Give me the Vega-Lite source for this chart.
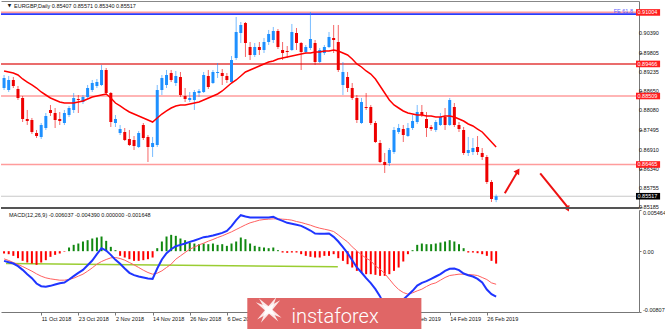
{
"$schema":"https://vega.github.io/schema/vega-lite/v6.json",
"padding":{"left":0,"top":1,"right":0,"bottom":0},
"autosize":{"type":"pad"},
"bounds":"flush",
"spacing":2,
"background":"white",
"config":{"view":{"stroke":null},"font":"Liberation Sans","axis":{"labelFont":"Liberation Sans","labelFontSize":5.5,"labelColor":"#111","grid":false,"title":null,"labelOverlap":false}},
"datasets":{
"bars":[
{"i":0,"o":0.88748,"h":0.89136,"l":0.88688,"c":0.89047,"ma":0.89256,"m":-0.001283,"s":-0.001017,"hg":-0.000310},
{"i":1,"o":0.88688,"h":0.89106,"l":0.88629,"c":0.88987,"ma":0.89226,"m":-0.001460,"s":-0.001238,"hg":-0.000398},
{"i":2,"o":0.88987,"h":0.89077,"l":0.88748,"c":0.88808,"ma":0.89196,"m":-0.001637,"s":-0.001504,"hg":-0.000619},
{"i":3,"o":0.88718,"h":0.88808,"l":0.88390,"c":0.88450,"ma":0.89136,"m":-0.001990,"s":-0.001769,"hg":-0.000929},
{"i":4,"o":0.88450,"h":0.88509,"l":0.87733,"c":0.87823,"ma":0.89017,"m":-0.002477,"s":-0.002035,"hg":-0.001283},
{"i":5,"o":0.87823,"h":0.88092,"l":0.87644,"c":0.87763,"ma":0.88927,"m":-0.003052,"s":-0.002344,"hg":-0.001504},
{"i":6,"o":0.87793,"h":0.87853,"l":0.87375,"c":0.87435,"ma":0.88838,"m":-0.003583,"s":-0.002654,"hg":-0.001637},
{"i":7,"o":0.87405,"h":0.87495,"l":0.87256,"c":0.87315,"ma":0.88748,"m":-0.004290,"s":-0.003008,"hg":-0.001813},
{"i":8,"o":0.87286,"h":0.87703,"l":0.87226,"c":0.87644,"ma":0.88629,"m":-0.004644,"s":-0.003317,"hg":-0.001504},
{"i":9,"o":0.87554,"h":0.88002,"l":0.87495,"c":0.87912,"ma":0.88539,"m":-0.004733,"s":-0.003538,"hg":-0.001194},
{"i":10,"o":0.88092,"h":0.88241,"l":0.87912,"c":0.88002,"ma":0.88450,"m":-0.004600,"s":-0.003671,"hg":-0.000752},
{"i":11,"o":0.88002,"h":0.88151,"l":0.87554,"c":0.87793,"ma":0.88390,"m":-0.004423,"s":-0.003760,"hg":-0.000487},
{"i":12,"o":0.87823,"h":0.88032,"l":0.87644,"c":0.87763,"ma":0.88330,"m":-0.004246,"s":-0.003848,"hg":-0.000310},
{"i":13,"o":0.87703,"h":0.88092,"l":0.87644,"c":0.88002,"ma":0.88300,"m":-0.004158,"s":-0.003848,"hg":-0.000088},
{"i":14,"o":0.87942,"h":0.88211,"l":0.87883,"c":0.88151,"ma":0.88300,"m":-0.003760,"s":-0.003760,"hg":0.000487},
{"i":15,"o":0.88092,"h":0.88599,"l":0.88002,"c":0.88450,"ma":0.88300,"m":-0.003317,"s":-0.003583,"hg":0.000840},
{"i":16,"o":0.88420,"h":0.88539,"l":0.88002,"c":0.88390,"ma":0.88330,"m":-0.002875,"s":-0.003317,"hg":0.001017},
{"i":17,"o":0.88330,"h":0.88539,"l":0.88271,"c":0.88480,"ma":0.88360,"m":-0.002477,"s":-0.003052,"hg":0.001283},
{"i":18,"o":0.88480,"h":0.88838,"l":0.88450,"c":0.88748,"ma":0.88420,"m":-0.001858,"s":-0.002654,"hg":0.001460},
{"i":19,"o":0.88688,"h":0.88987,"l":0.88629,"c":0.88897,"ma":0.88480,"m":-0.001238,"s":-0.002212,"hg":0.001681},
{"i":20,"o":0.88808,"h":0.89017,"l":0.88748,"c":0.88927,"ma":0.88509,"m":-0.000398,"s":-0.001725,"hg":0.001813},
{"i":21,"o":0.88838,"h":0.89435,"l":0.88808,"c":0.89286,"ma":0.88539,"m":0.000398,"s":-0.001371,"hg":0.001946},
{"i":22,"o":0.89286,"h":0.89345,"l":0.88539,"c":0.88599,"ma":0.88569,"m":0.000088,"s":-0.001106,"hg":0.001371},
{"i":23,"o":0.88599,"h":0.88629,"l":0.87584,"c":0.87733,"ma":0.88450,"m":-0.000487,"s":-0.000885,"hg":0.000575},
{"i":24,"o":0.87703,"h":0.87942,"l":0.87584,"c":0.87823,"ma":0.88300,"m":-0.001150,"s":-0.000840,"hg":0.000133},
{"i":25,"o":0.87405,"h":0.87644,"l":0.87345,"c":0.87524,"ma":0.88211,"m":-0.001681,"s":-0.000973,"hg":-0.000619},
{"i":26,"o":0.87435,"h":0.87554,"l":0.87166,"c":0.87196,"ma":0.88121,"m":-0.002300,"s":-0.001194,"hg":-0.000840},
{"i":27,"o":0.87226,"h":0.87495,"l":0.87017,"c":0.87047,"ma":0.88032,"m":-0.002875,"s":-0.001504,"hg":-0.001062},
{"i":28,"o":0.87196,"h":0.87315,"l":0.86898,"c":0.87017,"ma":0.87972,"m":-0.003185,"s":-0.001813,"hg":-0.001283},
{"i":29,"o":0.86987,"h":0.87465,"l":0.86957,"c":0.87405,"ma":0.87912,"m":-0.003361,"s":-0.002167,"hg":-0.001283},
{"i":30,"o":0.87644,"h":0.87703,"l":0.87196,"c":0.87256,"ma":0.87853,"m":-0.003494,"s":-0.002521,"hg":-0.001194},
{"i":31,"o":0.87286,"h":0.87345,"l":0.86539,"c":0.86987,"ma":0.87793,"m":-0.003627,"s":-0.002831,"hg":-0.001062},
{"i":32,"o":0.86987,"h":0.87286,"l":0.86689,"c":0.87106,"ma":0.87733,"m":-0.003671,"s":-0.003052,"hg":-0.000840},
{"i":33,"o":0.87047,"h":0.88838,"l":0.86987,"c":0.88688,"ma":0.87853,"m":-0.002300,"s":-0.002919,"hg":0.000398},
{"i":34,"o":0.88688,"h":0.89136,"l":0.88539,"c":0.89047,"ma":0.87972,"m":-0.001106,"s":-0.002610,"hg":0.001283},
{"i":35,"o":0.88838,"h":0.89286,"l":0.88748,"c":0.89136,"ma":0.88062,"m":-0.000265,"s":-0.002167,"hg":0.001946},
{"i":36,"o":0.89196,"h":0.89286,"l":0.88927,"c":0.88987,"ma":0.88151,"m":0.000265,"s":-0.001725,"hg":0.002167},
{"i":37,"o":0.88897,"h":0.89256,"l":0.88808,"c":0.89106,"ma":0.88211,"m":0.000663,"s":-0.001062,"hg":0.002035},
{"i":38,"o":0.89077,"h":0.89226,"l":0.88480,"c":0.88539,"ma":0.88241,"m":0.000840,"s":-0.000619,"hg":0.001681},
{"i":39,"o":0.88509,"h":0.88748,"l":0.88330,"c":0.88420,"ma":0.88241,"m":0.001017,"s":-0.000177,"hg":0.001460},
{"i":40,"o":0.88390,"h":0.88629,"l":0.88330,"c":0.88450,"ma":0.88271,"m":0.001238,"s":0.000265,"hg":0.001150},
{"i":41,"o":0.88390,"h":0.88688,"l":0.88092,"c":0.88629,"ma":0.88300,"m":0.001415,"s":0.000531,"hg":0.001017},
{"i":42,"o":0.88599,"h":0.88718,"l":0.88480,"c":0.88659,"ma":0.88330,"m":0.001637,"s":0.000840,"hg":0.000929},
{"i":43,"o":0.88629,"h":0.89226,"l":0.88599,"c":0.89136,"ma":0.88390,"m":0.001858,"s":0.001062,"hg":0.001017},
{"i":44,"o":0.89106,"h":0.89286,"l":0.88718,"c":0.88778,"ma":0.88450,"m":0.001946,"s":0.001327,"hg":0.000929},
{"i":45,"o":0.88897,"h":0.89286,"l":0.88868,"c":0.89226,"ma":0.88509,"m":0.002079,"s":0.001548,"hg":0.001017},
{"i":46,"o":0.89196,"h":0.89494,"l":0.89047,"c":0.89226,"ma":0.88569,"m":0.002256,"s":0.001813,"hg":0.000840},
{"i":47,"o":0.89196,"h":0.89315,"l":0.88838,"c":0.89106,"ma":0.88659,"m":0.002433,"s":0.002035,"hg":0.000929},
{"i":48,"o":0.89106,"h":0.89196,"l":0.88897,"c":0.88987,"ma":0.88778,"m":0.002698,"s":0.002300,"hg":0.000708},
{"i":49,"o":0.88927,"h":0.89703,"l":0.88897,"c":0.89584,"ma":0.88897,"m":0.003317,"s":0.002565,"hg":0.001017},
{"i":50,"o":0.89644,"h":0.90868,"l":0.89584,"c":0.90420,"ma":0.88987,"m":0.004113,"s":0.002875,"hg":0.001283},
{"i":51,"o":0.90390,"h":0.90718,"l":0.90091,"c":0.90629,"ma":0.89106,"m":0.004777,"s":0.003185,"hg":0.001813},
{"i":52,"o":0.90688,"h":0.90718,"l":0.89674,"c":0.90091,"ma":0.89226,"m":0.004600,"s":0.003494,"hg":0.001592},
{"i":53,"o":0.89972,"h":0.90121,"l":0.89584,"c":0.89733,"ma":0.89286,"m":0.004467,"s":0.003760,"hg":0.001017},
{"i":54,"o":0.89733,"h":0.90091,"l":0.89674,"c":0.89972,"ma":0.89345,"m":0.004467,"s":0.003936,"hg":0.000708},
{"i":55,"o":0.89972,"h":0.90121,"l":0.89733,"c":0.89883,"ma":0.89405,"m":0.004467,"s":0.004113,"hg":0.000575},
{"i":56,"o":0.89883,"h":0.90241,"l":0.89793,"c":0.90121,"ma":0.89465,"m":0.004467,"s":0.004202,"hg":0.000487},
{"i":57,"o":0.90121,"h":0.90480,"l":0.90032,"c":0.90360,"ma":0.89524,"m":0.004467,"s":0.004246,"hg":0.000398},
{"i":58,"o":0.90181,"h":0.90569,"l":0.90091,"c":0.90450,"ma":0.89554,"m":0.004556,"s":0.004290,"hg":0.000487},
{"i":59,"o":0.90450,"h":0.90509,"l":0.89912,"c":0.89972,"ma":0.89614,"m":0.004246,"s":0.004290,"hg":0.000133},
{"i":60,"o":0.89883,"h":0.90121,"l":0.89584,"c":0.89793,"ma":0.89644,"m":0.004025,"s":0.004246,"hg":-0.000177},
{"i":61,"o":0.89853,"h":0.90002,"l":0.89644,"c":0.89823,"ma":0.89674,"m":0.003760,"s":0.004202,"hg":-0.000221},
{"i":62,"o":0.89883,"h":0.90659,"l":0.89853,"c":0.90420,"ma":0.89703,"m":0.003627,"s":0.004113,"hg":-0.000177},
{"i":63,"o":0.90390,"h":0.90539,"l":0.89883,"c":0.90091,"ma":0.89733,"m":0.003494,"s":0.003936,"hg":-0.000177},
{"i":64,"o":0.90091,"h":0.90121,"l":0.89286,"c":0.89823,"ma":0.89763,"m":0.003361,"s":0.003804,"hg":-0.000398},
{"i":65,"o":0.89823,"h":0.90032,"l":0.89763,"c":0.89972,"ma":0.89793,"m":0.003052,"s":0.003627,"hg":-0.000619},
{"i":66,"o":0.89942,"h":0.91017,"l":0.89883,"c":0.90211,"ma":0.89793,"m":0.002742,"s":0.003450,"hg":-0.000752},
{"i":67,"o":0.90091,"h":0.90181,"l":0.89435,"c":0.89524,"ma":0.89823,"m":0.002344,"s":0.003229,"hg":-0.000840},
{"i":68,"o":0.89524,"h":0.89942,"l":0.89494,"c":0.89883,"ma":0.89823,"m":0.002300,"s":0.003052,"hg":-0.000840},
{"i":69,"o":0.89793,"h":0.90032,"l":0.89733,"c":0.89972,"ma":0.89853,"m":0.002300,"s":0.002919,"hg":-0.000619},
{"i":70,"o":0.89972,"h":0.90420,"l":0.89942,"c":0.90271,"ma":0.89853,"m":0.002344,"s":0.002786,"hg":-0.000619},
{"i":71,"o":0.90241,"h":0.90629,"l":0.89793,"c":0.90181,"ma":0.89883,"m":0.001902,"s":0.002610,"hg":-0.000398},
{"i":72,"o":0.90121,"h":0.90629,"l":0.89226,"c":0.89286,"ma":0.89853,"m":0.001283,"s":0.002167,"hg":-0.000929},
{"i":73,"o":0.88838,"h":0.89524,"l":0.88539,"c":0.89226,"ma":0.89793,"m":0.000531,"s":0.001681,"hg":-0.001283},
{"i":74,"o":0.89077,"h":0.89226,"l":0.88629,"c":0.88748,"ma":0.89733,"m":-0.000265,"s":0.001238,"hg":-0.001725},
{"i":75,"o":0.88748,"h":0.88897,"l":0.88390,"c":0.88450,"ma":0.89614,"m":-0.001194,"s":0.000575,"hg":-0.002167},
{"i":76,"o":0.88450,"h":0.88539,"l":0.87703,"c":0.87793,"ma":0.89465,"m":-0.002167,"s":0.000044,"hg":-0.002610},
{"i":77,"o":0.87703,"h":0.88450,"l":0.87674,"c":0.88330,"ma":0.89375,"m":-0.002831,"s":-0.000487,"hg":-0.002831},
{"i":78,"o":0.88181,"h":0.88599,"l":0.88092,"c":0.88151,"ma":0.89256,"m":-0.003583,"s":-0.000929,"hg":-0.003052},
{"i":79,"o":0.88181,"h":0.88241,"l":0.87644,"c":0.87703,"ma":0.89166,"m":-0.004246,"s":-0.001283,"hg":-0.003052},
{"i":80,"o":0.87703,"h":0.87763,"l":0.87106,"c":0.87136,"ma":0.89017,"m":-0.005042,"s":-0.001946,"hg":-0.003140},
{"i":81,"o":0.87106,"h":0.87196,"l":0.86509,"c":0.86539,"ma":0.88808,"m":-0.006000,"s":-0.002388,"hg":-0.003273},
{"i":82,"o":0.86539,"h":0.86808,"l":0.86211,"c":0.86450,"ma":0.88599,"m":-0.007300,"s":-0.002963,"hg":-0.003273},
{"i":83,"o":0.86509,"h":0.86957,"l":0.86420,"c":0.86898,"ma":0.88390,"m":-0.008070,"s":-0.003715,"hg":-0.003052},
{"i":84,"o":0.86838,"h":0.87584,"l":0.86778,"c":0.87495,"ma":0.88241,"m":-0.007700,"s":-0.004467,"hg":-0.002610},
{"i":85,"o":0.87435,"h":0.87674,"l":0.87375,"c":0.87554,"ma":0.88151,"m":-0.007000,"s":-0.005086,"hg":-0.002167},
{"i":86,"o":0.87524,"h":0.87644,"l":0.87136,"c":0.87345,"ma":0.88062,"m":-0.006400,"s":-0.005485,"hg":-0.001371},
{"i":87,"o":0.87315,"h":0.87703,"l":0.87286,"c":0.87554,"ma":0.88002,"m":-0.005850,"s":-0.005706,"hg":-0.000398},
{"i":88,"o":0.87554,"h":0.87942,"l":0.87495,"c":0.87763,"ma":0.87972,"m":-0.005263,"s":-0.005529,"hg":0.000133},
{"i":89,"o":0.87733,"h":0.88241,"l":0.87674,"c":0.88032,"ma":0.87942,"m":-0.004556,"s":-0.005263,"hg":0.000840},
{"i":90,"o":0.88032,"h":0.88241,"l":0.87883,"c":0.87942,"ma":0.87942,"m":-0.004202,"s":-0.005042,"hg":0.001017},
{"i":91,"o":0.87823,"h":0.88032,"l":0.87286,"c":0.87554,"ma":0.87912,"m":-0.003981,"s":-0.004688,"hg":0.000929},
{"i":92,"o":0.87584,"h":0.87644,"l":0.87465,"c":0.87524,"ma":0.87912,"m":-0.003671,"s":-0.004379,"hg":0.000929},
{"i":93,"o":0.87495,"h":0.87793,"l":0.87435,"c":0.87733,"ma":0.87883,"m":-0.003361,"s":-0.004202,"hg":0.001017},
{"i":94,"o":0.87644,"h":0.88002,"l":0.87614,"c":0.87883,"ma":0.87883,"m":-0.003052,"s":-0.003848,"hg":0.001150},
{"i":95,"o":0.87883,"h":0.88151,"l":0.87495,"c":0.87644,"ma":0.87912,"m":-0.002610,"s":-0.003494,"hg":0.001283},
{"i":96,"o":0.87644,"h":0.88450,"l":0.87614,"c":0.88390,"ma":0.87912,"m":-0.002344,"s":-0.003229,"hg":0.001460},
{"i":97,"o":0.88181,"h":0.88300,"l":0.87584,"c":0.87644,"ma":0.87883,"m":-0.002300,"s":-0.003140,"hg":0.001283},
{"i":98,"o":0.87644,"h":0.87733,"l":0.87435,"c":0.87524,"ma":0.87823,"m":-0.002521,"s":-0.003052,"hg":0.000929},
{"i":99,"o":0.87495,"h":0.87584,"l":0.86748,"c":0.86808,"ma":0.87763,"m":-0.002963,"s":-0.003052,"hg":0.000398},
{"i":100,"o":0.86808,"h":0.87286,"l":0.86718,"c":0.86898,"ma":0.87674,"m":-0.003185,"s":-0.003096,"hg":-0.000177},
{"i":101,"o":0.86838,"h":0.87256,"l":0.86748,"c":0.86957,"ma":0.87614,"m":-0.003361,"s":-0.003140,"hg":-0.000177},
{"i":102,"o":0.86987,"h":0.87315,"l":0.86748,"c":0.86838,"ma":0.87524,"m":-0.003671,"s":-0.003229,"hg":-0.000265},
{"i":103,"o":0.86808,"h":0.86957,"l":0.86599,"c":0.86689,"ma":0.87435,"m":-0.004158,"s":-0.003494,"hg":-0.000398},
{"i":104,"o":0.86689,"h":0.86748,"l":0.85883,"c":0.85942,"ma":0.87286,"m":-0.005086,"s":-0.003760,"hg":-0.000619},
{"i":105,"o":0.85942,"h":0.86002,"l":0.85345,"c":0.85435,"ma":0.87136,"m":-0.005706,"s":-0.004202,"hg":-0.001283},
{"i":106,"o":0.85407,"h":0.85571,"l":0.85340,"c":0.85517,"ma":0.86987,"m":-0.006037,"s":-0.004390,"hg":-0.001648}
],
"levels":[{"p":0.91004,"kind":"fe"},{"p":0.90953,"kind":"fib"},{"p":0.89466,"kind":"r"},{"p":0.88509,"kind":"p"},{"p":0.86465,"kind":"p"},{"p":0.85517,"kind":"bid"}],
"pricelabels":[{"p":0.9039},{"p":0.89805},{"p":0.89235},{"p":0.8865},{"p":0.8808},{"p":0.87495},{"p":0.8691},{"p":0.8634},{"p":0.85755},{"p":0.85185}],
"arrows":[{"a":1,"i":107.87,"p":0.85605,"head":0},{"a":1,"i":110.69,"p":0.86271,"head":1},{"a":2,"i":115.5,"p":0.86202,"head":0},{"a":2,"i":121.44,"p":0.85187,"head":1}],
"trend":[{"i":0.42,"v":-0.00163},{"i":71.9,"v":-0.00208}],
"logo":[{"r":0},{"r":45}]
},
"vconcat":[
{
"width":638,"height":207,
"layer":[
{"data":{"name":"levels"},"mark":{"type":"rule"},
 "encoding":{
  "y":{"field":"p","type":"quantitative","scale":{"domain":[0.85166,0.91345],"nice":false,"zero":false},
   "axis":{"orient":"right","values":[0.9039,0.89805,0.89235,0.8865,0.8808,0.87495,0.8691,0.8634,0.85755,0.85185],"labels":false,"tickSize":3,"tickColor":"#777","domainColor":"#777"}},
  "color":{"field":"kind","type":"nominal","scale":{"domain":["fe","fib","r","p","bid"],"range":["#ff9c9c","#2a3cff","#e33b3b","#ff9c9c","#c8c8c8"]},"legend":null},
  "strokeWidth":{"field":"kind","type":"nominal","scale":{"domain":["fe","fib","r","p","bid"],"range":[2,1.2,1.2,2,1]},"legend":null}
 }},
{"data":{"name":"bars"},"mark":{"type":"rule","clip":true,"strokeWidth":1,"opacity":0.6},
 "encoding":{
  "x":{"field":"i","type":"quantitative","scale":{"domain":[0.42,135.7],"nice":false,"zero":false},"axis":{"orient":"top","labels":false,"ticks":false,"domain":true,"domainColor":"#888"}},
  "y":{"field":"l","type":"quantitative","scale":{"domain":[0.85166,0.91345],"nice":false,"zero":false}},
  "y2":{"field":"h"},
  "color":{"condition":{"test":"datum.c>=datum.o","value":"#1e90ff"},"value":"#ee0000"}
 }},
{"data":{"name":"bars"},"mark":{"type":"bar","clip":true,"width":3},
 "encoding":{
  "x":{"field":"i","type":"quantitative","scale":{"domain":[0.42,135.7],"nice":false,"zero":false}},
  "y":{"field":"o","type":"quantitative","scale":{"domain":[0.85166,0.91345],"nice":false,"zero":false}},
  "y2":{"field":"c"},
  "color":{"condition":{"test":"datum.c>=datum.o","value":"#1e90ff"},"value":"#ee0000"}
 }},
{"data":{"name":"bars"},"mark":{"type":"line","clip":true,"color":"#ff0000","strokeWidth":1.5},
 "encoding":{
  "x":{"field":"i","type":"quantitative","scale":{"domain":[0.42,135.7],"nice":false,"zero":false}},
  "y":{"field":"ma","type":"quantitative","scale":{"domain":[0.85166,0.91345],"nice":false,"zero":false}}
 }},
{"data":{"name":"arrows"},"mark":{"type":"line","color":"#ee1111","strokeWidth":2},
 "encoding":{
  "x":{"field":"i","type":"quantitative","scale":{"domain":[0.42,135.7],"nice":false,"zero":false}},
  "y":{"field":"p","type":"quantitative","scale":{"domain":[0.85166,0.91345],"nice":false,"zero":false}},
  "detail":{"field":"a","type":"nominal"}
 }},
{"data":{"name":"arrows"},"transform":[{"filter":"datum.head==1"}],"mark":{"type":"point","shape":"triangle-up","filled":true,"size":45,"color":"#ee1111","opacity":1},
 "encoding":{
  "x":{"field":"i","type":"quantitative","scale":{"domain":[0.42,135.7],"nice":false,"zero":false}},
  "y":{"field":"p","type":"quantitative","scale":{"domain":[0.85166,0.91345],"nice":false,"zero":false}},
  "angle":{"field":"a","type":"quantitative","scale":{"domain":[1,2],"range":[31,140]},"legend":null}
 }},
{"data":{"values":[{}]},"mark":{"type":"rule","color":"#555","strokeWidth":2},
 "encoding":{
  "y":{"datum":0.85166,"type":"quantitative","scale":{"domain":[0.85166,0.91345],"nice":false,"zero":false}}
 }},
{"data":{"name":"pricelabels"},"mark":{"type":"text","align":"left","baseline":"middle","dx":5,"fontSize":5.5,"color":"#111","clip":false},
 "encoding":{
  "x":{"datum":135.7,"type":"quantitative","scale":{"domain":[0.42,135.7],"nice":false,"zero":false}},
  "y":{"field":"p","type":"quantitative","scale":{"domain":[0.85166,0.91345],"nice":false,"zero":false}},
  "text":{"field":"p","type":"quantitative","format":".5f"}
 }},
{"data":{"name":"levels"},"transform":[{"filter":"datum.kind!='fib'"}],"mark":{"type":"point","shape":"M0.67,-1.1H8.7V1.1H0.67Z","size":36,"filled":true,"opacity":1,"clip":false},
 "encoding":{
  "x":{"datum":135.7,"type":"quantitative","scale":{"domain":[0.42,135.7],"nice":false,"zero":false}},
  "y":{"field":"p","type":"quantitative","scale":{"domain":[0.85166,0.91345],"nice":false,"zero":false}},
  "color":{"condition":{"test":"datum.kind=='bid'","value":"#000000"},"value":"#ff1e1e"}
 }},
{"data":{"name":"levels"},"transform":[{"filter":"datum.kind!='fib'"}],"mark":{"type":"text","align":"left","baseline":"middle","dx":3.5,"fontSize":5.5,"color":"#ffffff","clip":false},
 "encoding":{
  "x":{"datum":135.7,"type":"quantitative","scale":{"domain":[0.42,135.7],"nice":false,"zero":false}},
  "y":{"field":"p","type":"quantitative","scale":{"domain":[0.85166,0.91345],"nice":false,"zero":false}},
  "text":{"field":"p","type":"quantitative","format":".5f"}
 }},
{"data":{"values":[{}]},"mark":{"type":"text","text":"FE 61.8","align":"right","baseline":"middle","dx":-1,"dy":-1.5,"fontSize":5.5,"color":"#5a5aff"},
 "encoding":{
  "x":{"datum":135.7,"type":"quantitative","scale":{"domain":[0.42,135.7],"nice":false,"zero":false}},
  "y":{"datum":0.91004,"type":"quantitative","scale":{"domain":[0.85166,0.91345],"nice":false,"zero":false}}
 }},
{"data":{"values":[{}]},"mark":{"type":"text","text":"▼","font":"DejaVu Sans","align":"center","baseline":"middle","dx":3.5,"dy":4.8,"fontSize":4.5,"color":"#222"},
 "encoding":{
  "x":{"datum":0.42,"type":"quantitative","scale":{"domain":[0.42,135.7],"nice":false,"zero":false}},
  "y":{"datum":0.91345,"type":"quantitative","scale":{"domain":[0.85166,0.91345],"nice":false,"zero":false}}
 }},
{"data":{"values":[{}]},"mark":{"type":"text","text":"EURGBP,Daily  0.85407 0.85571 0.85340 0.85517","align":"left","baseline":"middle","dx":8,"dy":4.8,"fontSize":5.5,"color":"#111"},
 "encoding":{
  "x":{"datum":0.42,"type":"quantitative","scale":{"domain":[0.42,135.7],"nice":false,"zero":false}},
  "y":{"datum":0.91345,"type":"quantitative","scale":{"domain":[0.85166,0.91345],"nice":false,"zero":false}}
 }}
]
},
{
"width":638,"height":102,
"layer":[
{"data":{"name":"trend"},"mark":{"type":"line","clip":true,"color":"#9acd32","strokeWidth":1.5},
 "encoding":{
  "x":{"field":"i","type":"quantitative","scale":{"domain":[0.42,135.7],"nice":false,"zero":false},
   "axis":{"orient":"bottom","values":[8,16,24,32,40,48,88,96,104],"labelExpr":"['1 Oct 2018','11 Oct 2018','23 Oct 2018','2 Nov 2018','14 Nov 2018','26 Nov 2018','6 Dec 2018','18 Dec 2018','31 Dec 2018','11 Jan 2019','23 Jan 2019','4 Feb 2019','14 Feb 2019','26 Feb 2019'][round(datum.value/8)]","labelAlign":"left","labelPadding":1,"tickSize":3,"tickColor":"#777","domainColor":"#777","labelOverlap":false,"labelBound":false,"labelFlush":false}},
  "y":{"field":"v","type":"quantitative","scale":{"domain":[-0.00807,0.005464],"nice":false,"zero":false},
   "axis":{"orient":"right","values":[0.005464,0,-0.00807],"labelExpr":"datum.value>0.001?'0.005464':(datum.value<-0.001?'-0.00807':'0.00')","labelFlush":true,"labelOverlap":false,"tickSize":2,"labelPadding":1.5,"tickColor":"#777","domainColor":"#777"}}
 }},
{"data":{"name":"bars"},"mark":{"type":"bar","clip":true,"width":2},
 "encoding":{
  "x":{"field":"i","type":"quantitative","scale":{"domain":[0.42,135.7],"nice":false,"zero":false}},
  "y":{"field":"hg","type":"quantitative","scale":{"domain":[-0.00807,0.005464],"nice":false,"zero":false}},
  "y2":{"datum":0},
  "color":{"condition":{"test":"datum.hg>=0","value":"#118811"},"value":"#ff0000"}
 }},
{"data":{"name":"bars"},"mark":{"type":"line","clip":true,"color":"#ff6060","strokeWidth":1},
 "encoding":{
  "x":{"field":"i","type":"quantitative","scale":{"domain":[0.42,135.7],"nice":false,"zero":false}},
  "y":{"field":"s","type":"quantitative","scale":{"domain":[-0.00807,0.005464],"nice":false,"zero":false}}
 }},
{"data":{"name":"bars"},"mark":{"type":"line","clip":true,"color":"#1f35ff","strokeWidth":2},
 "encoding":{
  "x":{"field":"i","type":"quantitative","scale":{"domain":[0.42,135.7],"nice":false,"zero":false}},
  "y":{"field":"m","type":"quantitative","scale":{"domain":[-0.00807,0.005464],"nice":false,"zero":false}}
 }},
{"data":{"values":[{}]},"mark":{"type":"text","text":"MACD(12,26,9) -0.006037 -0.004390 0.000000 -0.001648","align":"left","baseline":"middle","dx":3,"dy":5,"fontSize":5.5,"color":"#111"},
 "encoding":{
  "x":{"datum":0.42,"type":"quantitative","scale":{"domain":[0.42,135.7],"nice":false,"zero":false}},
  "y":{"datum":0.005464,"type":"quantitative","scale":{"domain":[-0.00807,0.005464],"nice":false,"zero":false}}
 }},
{"data":{"values":[{}]},"mark":{"type":"rect","color":"#e06666","clip":false},
 "encoding":{
  "x":{"datum":52.4,"type":"quantitative","scale":{"domain":[0.42,135.7],"nice":false,"zero":false}},
  "x2":{"datum":89.9},
  "y":{"datum":-0.00621,"type":"quantitative","scale":{"domain":[-0.00807,0.005464],"nice":false,"zero":false}},
  "y2":{"datum":-0.0104}
 }},
{"data":{"name":"logo"},"mark":{"type":"point","shape":"M0,-1L0.16,-0.16L1,0L0.16,0.16L0,1L-0.16,0.16L-1,0L-0.16,-0.16Z","size":900,"filled":true,"color":"#ffffff","opacity":0.85,"clip":false},
 "encoding":{
  "x":{"datum":57.0,"type":"quantitative","scale":{"domain":[0.42,135.7],"nice":false,"zero":false}},
  "y":{"datum":-0.0078,"type":"quantitative","scale":{"domain":[-0.00807,0.005464],"nice":false,"zero":false}},
  "angle":{"field":"r","type":"quantitative","scale":{"domain":[0,45],"range":[0,45]},"legend":null}
 }},
{"data":{"values":[{}]},"mark":{"type":"text","text":"instaforex","font":"Roboto","fontWeight":300,"align":"left","baseline":"middle","fontSize":20,"color":"#ffffff","clip":false},
 "encoding":{
  "x":{"datum":61.9,"type":"quantitative","scale":{"domain":[0.42,135.7],"nice":false,"zero":false}},
  "y":{"datum":-0.00878,"type":"quantitative","scale":{"domain":[-0.00807,0.005464],"nice":false,"zero":false}}
 }}
]
}
]
}
